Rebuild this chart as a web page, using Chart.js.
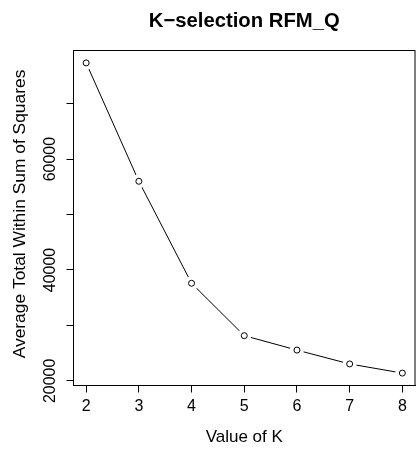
<!DOCTYPE html>
<html>
<head>
<meta charset="utf-8">
<script src="https://cdn.jsdelivr.net/npm/chart.js@4/dist/chart.umd.min.js"></script>
<style>
  html, body { margin: 0; padding: 0; background: #fff; overflow: hidden; }
  #wrap { width: 422px; height: 449px; }
</style>
</head>
<body>
<div id="wrap"><canvas id="kChart" width="422" height="449"></canvas></div>
<script>
// Values
const kValues = [2, 3, 4, 5, 6, 7, 8];
const wssValues = [77350, 56000, 37600, 28150, 25550, 23050, 21400];
const xTicks = [2, 3, 4, 5, 6, 7, 8];
const yTicks = [20000, 30000, 40000, 50000, 60000, 70000];
const yLabelled = [20000, 40000, 60000];

const chartTitle = "K\u2212selection RFM_Q";
const xTitle = "Value of K";
const yTitle = "Average Total Within Sum of Squares";

const points = kValues.map((k, i) => ({ x: k, y: wssValues[i] }));

// R style range: data range padded by 4% on each side
function padRange(vals) {
  const lo = Math.min(...vals), hi = Math.max(...vals);
  const pad = (hi - lo) * 0.04;
  return [lo - pad, hi + pad];
}
const [xMin, xMax] = padRange(kValues);
const [yMin, yMax] = padRange(wssValues);

const FONT = "'Liberation Sans', Arial, sans-serif";
Chart.defaults.font.family = FONT;
Chart.defaults.color = "#000";

// frame box, main title, y title and rotated y tick labels
const rPlotExtras = {
  id: "rPlotExtras",
  afterDraw(chart) {
    const { ctx, chartArea: a, scales } = chart;
    ctx.save();
    ctx.strokeStyle = "#000";
    ctx.lineWidth = 1;
    ctx.strokeRect(a.left, a.top, a.right - a.left, a.bottom - a.top);

    ctx.fillStyle = "#000";
    ctx.font = "bold 20.3px " + FONT;
    ctx.textAlign = "center";
    ctx.textBaseline = "middle";
    ctx.fillText(chartTitle, (a.left + a.right) / 2, 21);

    ctx.textBaseline = "alphabetic";
    ctx.font = "17.4px " + FONT;
    ctx.save();
    ctx.translate(24.5, (a.top + a.bottom) / 2 - 4);
    ctx.rotate(-Math.PI / 2);
    ctx.fillText(yTitle, 0, 0);
    ctx.restore();

    ctx.font = "16px " + FONT;
    yLabelled.forEach(v => {
      const py = scales.y.getPixelForValue(v);
      ctx.save();
      ctx.translate(55, py);
      ctx.rotate(-Math.PI / 2);
      ctx.fillText(String(v), 0, 0);
      ctx.restore();
    });
    ctx.restore();
  }
};

new Chart(document.getElementById("kChart"), {
  type: "line",
  data: {
    datasets: [
      {
        // hollow circles on top
        data: points,
        showLine: false,
        pointRadius: 3,
        pointBorderWidth: 1,
        pointBorderColor: "#000",
        pointBackgroundColor: "rgba(0,0,0,0)"
      },
      {
        // white gap around points, like R type = "b"
        data: points,
        showLine: false,
        pointRadius: 7,
        pointBorderWidth: 0,
        pointBackgroundColor: "#fff"
      },
      {
        data: points,
        borderColor: "#000",
        borderWidth: 1,
        pointRadius: 0,
        tension: 0,
        fill: false
      }
    ]
  },
  options: {
    responsive: false,
    animation: false,
    layout: { padding: { top: 50.5, right: 2.5, left: 0, bottom: 0 } },
    plugins: {
      legend: { display: false },
      title: { display: false },
      tooltip: { enabled: false }
    },
    scales: {
      x: {
        type: "linear",
        min: xMin,
        max: xMax,
        afterBuildTicks: s => { s.ticks = xTicks.map(v => ({ value: v })); },
        afterFit: s => { s.height = 63.5; s.paddingLeft = 0; s.paddingRight = 0; },
        grid: { drawOnChartArea: false, drawTicks: true, tickLength: 7, color: "#000" },
        border: { display: true, color: "#000", width: 1 },
        ticks: {
          font: { size: 16 },
          padding: 4,
          maxRotation: 0,
          autoSkip: false
        },
        title: {
          display: true,
          text: xTitle,
          font: { size: 17 },
          padding: { top: 0, bottom: 1.5 }
        }
      },
      y: {
        type: "linear",
        min: yMin,
        max: yMax,
        afterBuildTicks: s => { s.ticks = yTicks.map(v => ({ value: v })); },
        afterFit: s => { s.width = 73.5; },
        grid: { drawOnChartArea: false, drawTicks: true, tickLength: 7, color: "#000" },
        border: { display: true, color: "#000", width: 1 },
        ticks: { display: false },
        title: { display: false }
      }
    }
  },
  plugins: [rPlotExtras]
});
</script>
</body>
</html>
